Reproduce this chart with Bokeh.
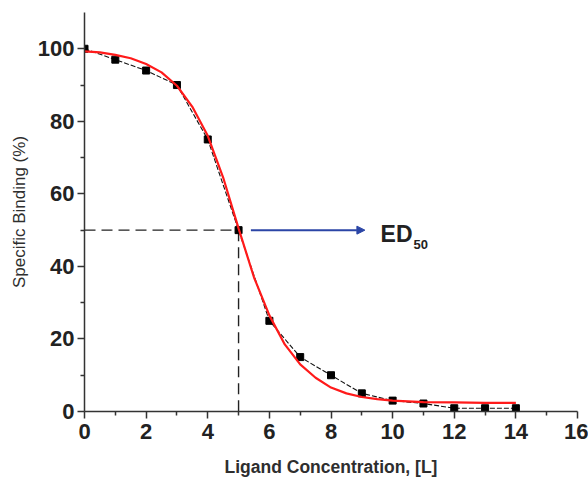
from bokeh.plotting import figure
from bokeh.models import Range1d, FixedTicker, Arrow, NormalHead, Label
from bokeh.embed import file_html
from bokeh.resources import INLINE

# Measured data (black squares)
conc = [0, 1, 2, 3, 4, 5, 6, 7, 8, 9, 10, 11, 12, 13, 14]
binding = [100, 97, 94, 90, 75, 50, 25, 15, 10, 5, 3, 2.2, 0.9, 0.9, 0.9]

# Fitted curve (red)
fit_x = [0, 0.5, 1, 1.5, 2, 2.5, 3, 3.5, 4, 4.5, 5, 5.5, 6, 6.5, 7, 7.5, 8,
         8.5, 9, 9.5, 10, 10.5, 11, 12, 13, 14]
fit_y = [99.3, 99.0, 98.3, 97.4, 95.8, 93.5, 89.8, 84.0, 76.0, 64.5, 50.5,
         37.0, 26.5, 18.5, 13.0, 9.3, 6.6, 5.0, 4.0, 3.4, 3.0, 2.8, 2.6,
         2.5, 2.4, 2.4]

# ED50 marker
ed50_x = 5
ed50_y = 50
ref_h_x = [0, ed50_x]
ref_h_y = [ed50_y, ed50_y]
ref_v_x = [ed50_x, ed50_x]
ref_v_y = [ed50_y, 0]
arrow_x = [5.4, 9.1]

x_ticks = [0, 2, 4, 6, 8, 10, 12, 14, 16]
x_minor = [1, 3, 5, 7, 9, 11, 13, 15]
y_ticks = [0, 20, 40, 60, 80, 100]
y_minor = [10, 30, 50, 70, 90]

FONT = "Liberation Sans"
DARK = "#222222"

p = figure(width=588, height=479, output_backend="svg", toolbar_location=None,
           x_range=Range1d(0, 16), y_range=Range1d(0, 110),
           min_border_left=84, min_border_right=11, min_border_top=12,
           min_border_bottom=67)
p.outline_line_color = None
p.xgrid.visible = False
p.ygrid.visible = False
p.background_fill_color = "white"
p.border_fill_color = "white"

for ax in (p.xaxis[0], p.yaxis[0]):
    ax.axis_line_color = "#333333"
    ax.axis_line_width = 1.5
    ax.major_tick_line_color = "#333333"
    ax.minor_tick_line_color = "#333333"
    ax.major_tick_line_width = 1.5
    ax.minor_tick_line_width = 1.5
    ax.major_tick_in = 0
    ax.major_tick_out = 7
    ax.minor_tick_in = 0
    ax.minor_tick_out = 4
    ax.major_label_text_font = FONT
    ax.major_label_text_font_style = "bold"
    ax.major_label_text_font_size = "22px"
    ax.major_label_text_color = DARK
    ax.axis_label_text_font = FONT
    ax.axis_label_text_color = "#2e2e2e"

p.xaxis[0].ticker = FixedTicker(ticks=x_ticks, minor_ticks=x_minor)
p.yaxis[0].ticker = FixedTicker(ticks=y_ticks, minor_ticks=y_minor)
p.xaxis[0].major_label_standoff = 5
p.yaxis[0].major_label_standoff = 3

p.xaxis[0].axis_label = "Ligand Concentration, [L]"
p.xaxis[0].axis_label_text_font_style = "bold"
p.xaxis[0].axis_label_text_font_size = "17.5px"
p.xaxis[0].axis_label_standoff = 15

p.yaxis[0].axis_label = "Specific Binding (%)"
p.yaxis[0].axis_label_text_font_style = "normal"
p.yaxis[0].axis_label_text_font_size = "17px"
p.yaxis[0].axis_label_standoff = 6

# Reference dashed lines
p.line(ref_h_x, ref_h_y, line_color=DARK, line_width=1.4, line_dash="11 6")
p.line(ref_v_x, ref_v_y, line_color=DARK, line_width=1.4, line_dash="11 6")

# Data line and squares
p.line(conc, binding, line_color="#111111", line_width=1.1, line_dash="5 2")
p.scatter(conc, binding, marker="square", size=7, fill_color="black",
          line_color="black")

# Fit curve
p.line(fit_x, fit_y, line_color="#ff1a1a", line_width=2.2)

# Arrow
p.add_layout(Arrow(end=NormalHead(size=8, fill_color="#2b45a6",
                                  line_color="#2b45a6"),
                   x_start=arrow_x[0], y_start=ed50_y,
                   x_end=arrow_x[1], y_end=ed50_y,
                   line_color="#2b45a6", line_width=2))

p.add_layout(Label(x=9.61, y=48.9, text="ED", text_font=FONT,
                   text_font_style="bold", text_font_size="23px",
                   text_color=DARK, text_baseline="alphabetic"))
p.add_layout(Label(x=10.68, y=46.0, text="50", text_font=FONT,
                   text_font_style="bold", text_font_size="13px",
                   text_color=DARK, text_baseline="alphabetic"))

open("out.html", "w").write(file_html(p, INLINE))
